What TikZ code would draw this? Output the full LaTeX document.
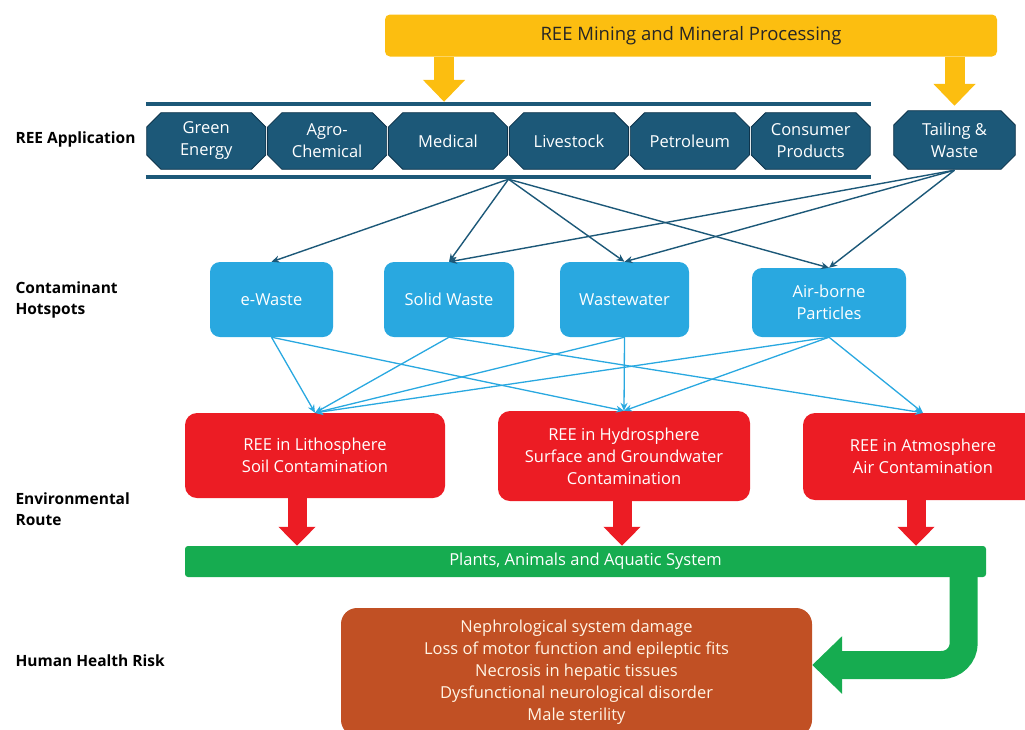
\documentclass[tikz,border=0pt]{standalone}
\usepackage{fontspec}
\setmainfont{Open Sans}
\usepackage{tikz}
\usetikzlibrary{calc}
\usetikzlibrary{shapes.arrows,arrows.meta,positioning}

\definecolor{reeyellow}{RGB}{252,190,16}
\definecolor{reeteal}{RGB}{28,88,120}
\definecolor{reenavy}{RGB}{14,52,76}
\definecolor{reeblue}{RGB}{41,168,224}
\definecolor{reered}{RGB}{236,28,36}
\definecolor{reegreen}{RGB}{22,172,80}
\definecolor{reebrown}{RGB}{193,80,36}
\definecolor{reecream}{RGB}{255,244,228}

\begin{document}
\begin{tikzpicture}[x=1pt, y=-1pt, font=\fontsize{16.5}{22}\selectfont]
    % Define styles
    \tikzstyle{topbar} = [rectangle, rounded corners=5pt, fill=reeyellow, text=black!85, minimum width=612pt, minimum height=42pt, font=\fontsize{18.5}{22}\selectfont]
    \tikzstyle{octa} = [rectangle, minimum width=120.5pt, minimum height=58pt, inner sep=0pt, text=white, align=center,
        path picture={
            \draw[reenavy, thick, fill=reeteal]
                ([xshift=15pt, yshift=-0.7pt]path picture bounding box.north west) -- ([xshift=-15pt, yshift=-0.7pt]path picture bounding box.north east)
                -- ([xshift=-0.7pt, yshift=-15pt]path picture bounding box.north east) -- ([xshift=-0.7pt, yshift=15pt]path picture bounding box.south east)
                -- ([xshift=-15pt, yshift=0.7pt]path picture bounding box.south east) -- ([xshift=15pt, yshift=0.7pt]path picture bounding box.south west)
                -- ([xshift=0.7pt, yshift=15pt]path picture bounding box.south west) -- ([xshift=0.7pt, yshift=-15pt]path picture bounding box.north west)
                -- cycle;
        }]
    \tikzstyle{hot} = [rectangle, rounded corners=10pt, fill=reeblue, text=white, align=center]
    \tikzstyle{route} = [rectangle, rounded corners=12pt, fill=reered, text=white, align=center]
    \tikzstyle{lbl} = [anchor=west, align=left, font=\bfseries\fontsize{15.5}{21}\selectfont]
    \tikzstyle{rail} = [draw=reeteal, line width=4.5pt]
    \tikzstyle{tarrow} = [-{Stealth[length=8pt, width=7pt]}, draw=reeteal, line width=1.4pt]
    \tikzstyle{barrow} = [-{Stealth[length=8pt, width=7pt]}, draw=reeblue, line width=1.3pt]
    \tikzstyle{yarrow} = [draw=reeyellow, line width=20pt, -{Triangle[length=22pt, width=41pt]}]
    \tikzstyle{rarrow} = [draw=reered, line width=19pt, -{Triangle[length=19pt, width=36pt]}]
    \tikzstyle{garrow} = [draw=reegreen, line width=28pt, rounded corners=22pt, -{Triangle[length=30pt, width=56pt]}]

    \useasboundingbox (0,0) rectangle (1025,729);

    % Mining source
    \node[topbar] (mining) at (691,35.5) {REE Mining and Mineral Processing};

    % REE application row
    \node[octa] (green) at (206.25,141) {Green\\Energy};
    \node[octa, right=0pt of green] (agro) {Agro-\\Chemical};
    \node[octa, right=0pt of agro] (medical) {Medical};
    \node[octa, right=0pt of medical] (livestock) {Livestock};
    \node[octa, right=0pt of livestock] (petroleum) {Petroleum};
    \node[octa, right=0pt of petroleum] (consumer) {Consumer\\Products};
    \node[octa, minimum width=123pt, minimum height=60pt] (tailing) at (954.5,140) {Tailing \&\\Waste};

    % Rails above and below the row
    \coordinate (railTL) at ($(green.north west)+(0,-8)$);
    \coordinate (railTR) at ($(consumer.north east)+(0,-8)$);
    \coordinate (railBL) at ($(green.south west)+(0,7)$);
    \coordinate (railBR) at ($(consumer.south east)+(0,7)$);
    \draw[rail] (railTL) -- (railTR);
    \draw[rail] (railBL) -- (railBR);
    \coordinate (hub) at ($(railBL)!0.5!(railBR)+(0,2)$);

    % Mining arrows
    \coordinate (medArr) at ([xshift=-4pt, yshift=10pt]medical.north);
    \coordinate (tailArr) at ([yshift=4pt]tailing.north);
    \foreach \a in {medArr,tailArr}
        \draw[yarrow] (\a |- mining.south) -- (\a);

    % Row labels
    \node[lbl] (labApp) at (12,139) {REE Application};
    \node[lbl] (labHot) at (12,300) {Contaminant\\Hotspots};
    \node[lbl] (labEnv) at (12,509) {Environmental\\Route};
    \node[lbl] (labHealth) at (12,661) {Human Health Risk};

    % Contaminant hotspots
    \node[hot, minimum width=123pt, minimum height=75pt] (ewaste) at (271.5,299.5) {e-Waste};
    \node[hot, minimum width=130pt, minimum height=75pt] (solid) at (449,299.5) {Solid Waste};
    \node[hot, minimum width=129pt, minimum height=75pt] (wastewater) at (624.5,299.5) {Wastewater};
    \node[hot, minimum width=154pt, minimum height=69pt] (airborne) at (829,302.5) {Air-borne\\Particles};

    \foreach \t in {ewaste,solid,wastewater,airborne}
        \draw[tarrow] (hub) -- (\t.north);
    \foreach \t in {solid,wastewater,airborne}
        \draw[tarrow] (tailing.south) -- (\t.north);

    % Environmental routes
    \node[route, minimum width=260pt, minimum height=85pt] (litho) at (315,455.5) {REE in Lithosphere\\Soil Contamination};
    \node[route, minimum width=252pt, minimum height=90pt] (hydro) at (624,456) {REE in Hydrosphere\\Surface and Groundwater\\Contamination};
    \node[route, minimum width=240pt, minimum height=87pt] (atmos) at (923,456.5) {REE in Atmosphere\\Air Contamination};

    \foreach \s/\t in {ewaste/litho, ewaste/hydro, solid/litho, solid/atmos, wastewater/litho, wastewater/hydro, airborne/litho, airborne/hydro, airborne/atmos}
        \draw[barrow] (\s.south) -- (\t.north);

    % Ecosystem bar
    \node[rectangle, rounded corners=3pt, fill=reegreen, text=white, minimum width=801pt, minimum height=31pt] (plants) at (585.5,561.5) {Plants, Animals and Aquatic System};

    \coordinate (litArr) at ([xshift=-18pt, yshift=1pt]litho.south);
    \coordinate (hydArr) at ([xshift=-2pt, yshift=1pt]hydro.south);
    \coordinate (atmArr) at ([xshift=-7pt, yshift=1pt]atmos.south);
    \foreach \a in {litArr,hydArr,atmArr}
        \draw[rarrow] (\a) -- (\a |- plants.north);

    % Human health risk
    \node[rectangle, rounded corners=16pt, fill=reebrown, text=reecream, align=center, minimum width=471pt, minimum height=128pt] (health) at (576.5,672) {Nephrological system damage\\Loss of motor function and epileptic fits\\Necrosis in hepatic tissues\\Dysfunctional neurological disorder\\Male sterility};

    \draw[garrow] ($(plants.south east)+(-22.5,-1)$) |- ($(health.east)+(0,-7)$);
\end{tikzpicture}
\end{document}
